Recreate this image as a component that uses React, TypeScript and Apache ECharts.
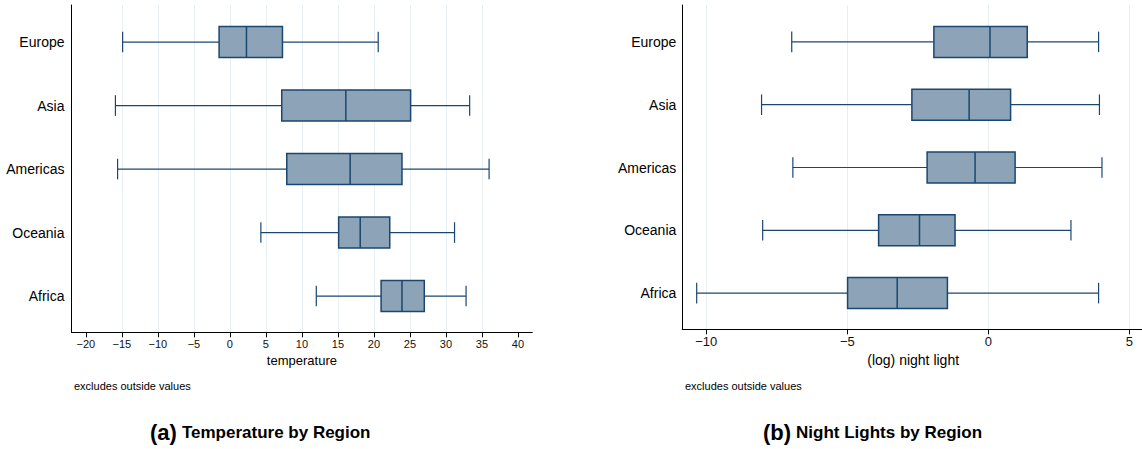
import React, { useEffect, useRef } from 'react';
import * as echarts from 'echarts';

const regions = ['Europe', 'Asia', 'Americas', 'Oceania', 'Africa'];

const tempMin = [-14.9, -15.9, -15.6, 4.3, 12.0];
const tempQ1 = [-1.5, 7.2, 7.9, 15.1, 21.0];
const tempMedian = [2.3, 16.1, 16.7, 18.1, 23.9];
const tempQ3 = [7.3, 25.1, 23.9, 22.2, 27.0];
const tempMax = [20.6, 33.3, 36.0, 31.2, 32.8];

const lightMin = [-6.97, -8.04, -6.93, -8.0, -10.34];
const lightQ1 = [-1.93, -2.71, -2.17, -3.89, -4.99];
const lightMedian = [0.06, -0.68, -0.47, -2.44, -3.23];
const lightQ3 = [1.38, 0.79, 0.95, -1.18, -1.45];
const lightMax = [3.91, 3.94, 4.03, 2.93, 3.91];

const tempTicks = [-20, -15, -10, -5, 0, 5, 10, 15, 20, 25, 30, 35, 40];
const lightTicks = [-10, -5, 0, 5];

const FONT = "'Liberation Sans', Arial, Helvetica, sans-serif";
const NAVY = '#1a476f';
const FILL = '#8da3b7';
const GRIDC = '#e7eff2';

const buildRows = (mn: number[], q1: number[], md: number[], q3: number[], mx: number[]) =>
  regions.map((_, i) => [i, mn[i], q1[i], md[i], q3[i], mx[i]]);

const renderBox = (params: any, api: any) => {
  const cat = api.value(0);
  const lo = api.coord([api.value(1), cat]);
  const q1 = api.coord([api.value(2), cat]);
  const md = api.coord([api.value(3), cat]);
  const q3 = api.coord([api.value(4), cat]);
  const hi = api.coord([api.value(5), cat]);
  const y = lo[1];
  const hb = 15.5;
  const hc = 10.3;
  const wl = { stroke: NAVY, lineWidth: 1.2 };
  return {
    type: 'group',
    children: [
      { type: 'line', shape: { x1: lo[0], y1: y, x2: q1[0], y2: y }, style: wl },
      { type: 'line', shape: { x1: q3[0], y1: y, x2: hi[0], y2: y }, style: wl },
      { type: 'line', shape: { x1: lo[0], y1: y - hc, x2: lo[0], y2: y + hc }, style: wl },
      { type: 'line', shape: { x1: hi[0], y1: y - hc, x2: hi[0], y2: y + hc }, style: wl },
      {
        type: 'rect',
        shape: { x: q1[0], y: y - hb, width: q3[0] - q1[0], height: 2 * hb },
        style: { fill: FILL, stroke: NAVY, lineWidth: 1.5 },
      },
      { type: 'line', shape: { x1: md[0], y1: y - hb, x2: md[0], y2: y + hb }, style: { stroke: NAVY, lineWidth: 1.5 } },
    ],
  };
};

const minus = (v: number) => String(v).replace('-', '\u2212');

const frameY = (gridIndex: number) => ({
  gridIndex,
  type: 'value',
  min: 0,
  max: 1,
  axisLine: { show: true, onZero: false, lineStyle: { color: '#000', width: 1 } },
  axisTick: { show: false },
  axisLabel: { show: false },
  splitLine: { show: false },
});

const dataY = (gridIndex: number, margin: number) => ({
  gridIndex,
  type: 'category',
  data: regions,
  inverse: true,
  axisLine: { show: false },
  axisTick: { show: false },
  axisLabel: { fontSize: 14, color: '#000', margin, fontFamily: FONT },
  splitLine: { show: false },
});

export default function App() {
  const ref = useRef<HTMLDivElement>(null);
  useEffect(() => {
    if (!ref.current) return;
    const chart = echarts.init(ref.current, undefined, { renderer: 'svg' });
    const option: any = {
      animation: false,
      backgroundColor: '#fff',
      textStyle: { fontFamily: FONT },
      title: [
        {
          text: '{a|(a)} {b|Temperature by Region}',
          left: 150,
          top: 421,
          padding: 0,
          textStyle: {
            rich: {
              a: { fontSize: 22, fontWeight: 'bold', color: '#000', fontFamily: FONT },
              b: { fontSize: 17, fontWeight: 'bold', color: '#000', fontFamily: FONT },
            },
          },
        },
        {
          text: '{a|(b)} {b|Night Lights by Region}',
          left: 763,
          top: 421,
          padding: 0,
          textStyle: {
            rich: {
              a: { fontSize: 22, fontWeight: 'bold', color: '#000', fontFamily: FONT },
              b: { fontSize: 17, fontWeight: 'bold', color: '#000', fontFamily: FONT },
            },
          },
        },
        {
          text: 'excludes outside values',
          left: 74,
          top: 380,
          padding: 0,
          textStyle: { fontSize: 11, fontWeight: 'normal', color: '#000', fontFamily: FONT },
        },
        {
          text: 'excludes outside values',
          left: 685,
          top: 380,
          padding: 0,
          textStyle: { fontSize: 11, fontWeight: 'normal', color: '#000', fontFamily: FONT },
        },
      ],
      grid: [
        { left: 71.5, top: 5, width: 460.8, height: 327.3, outerBoundsMode: 'none' },
        { left: 71.5, top: 10.3, width: 460.8, height: 317.5, outerBoundsMode: 'none' },
        { left: 682.3, top: 5, width: 461.7, height: 324.3, outerBoundsMode: 'none' },
        { left: 682.3, top: 10.5, width: 461.7, height: 314, outerBoundsMode: 'none' },
      ],
      xAxis: [
        {
          gridIndex: 0,
          type: 'value',
          min: -22,
          max: 42,
          axisLine: { show: true, onZero: false, lineStyle: { color: '#000', width: 1 } },
          axisTick: { show: true, customValues: tempTicks, length: 5, lineStyle: { color: '#000' } },
          axisLabel: { customValues: tempTicks, fontSize: 11, color: '#111', margin: 6, formatter: minus },
          splitLine: { show: true, showMinLine: false, showMaxLine: false, lineStyle: { color: GRIDC, width: 1 } },
          name: 'temperature',
          nameLocation: 'middle',
          nameGap: 20,
          nameTextStyle: { fontSize: 13, color: '#000' },
        },
        { gridIndex: 1, type: 'value', min: -22, max: 42, show: false },
        {
          gridIndex: 2,
          type: 'value',
          min: -10.85,
          max: 5.52,
          axisLine: { show: true, onZero: false, lineStyle: { color: '#000', width: 1 } },
          axisTick: { show: true, customValues: lightTicks, length: 5, lineStyle: { color: '#000' } },
          axisLabel: { customValues: lightTicks, fontSize: 13, color: '#111', margin: 6, formatter: minus },
          splitLine: { show: true, lineStyle: { color: GRIDC, width: 1 } },
          name: '(log) night light',
          nameLocation: 'middle',
          nameGap: 22,
          nameTextStyle: { fontSize: 14, color: '#000' },
        },
        { gridIndex: 3, type: 'value', min: -10.85, max: 5.52, show: false },
      ],
      yAxis: [frameY(0), dataY(1, 7), frameY(2), dataY(3, 6)],
      series: [
        {
          type: 'custom',
          name: 'temperature',
          xAxisIndex: 1,
          yAxisIndex: 1,
          encode: { x: [1, 2, 3, 4, 5], y: 0 },
          data: buildRows(tempMin, tempQ1, tempMedian, tempQ3, tempMax),
          renderItem: renderBox,
          z: 3,
        },
        {
          type: 'custom',
          name: 'night light',
          xAxisIndex: 3,
          yAxisIndex: 3,
          encode: { x: [1, 2, 3, 4, 5], y: 0 },
          data: buildRows(lightMin, lightQ1, lightMedian, lightQ3, lightMax),
          renderItem: renderBox,
          z: 3,
        },
      ],
    };
    chart.setOption(option);
    return () => chart.dispose();
  }, []);
  return (
    <div
      ref={ref}
      style={{ position: 'absolute', left: 0, top: 0, width: 1142, height: 449 }}
    />
  );
}
